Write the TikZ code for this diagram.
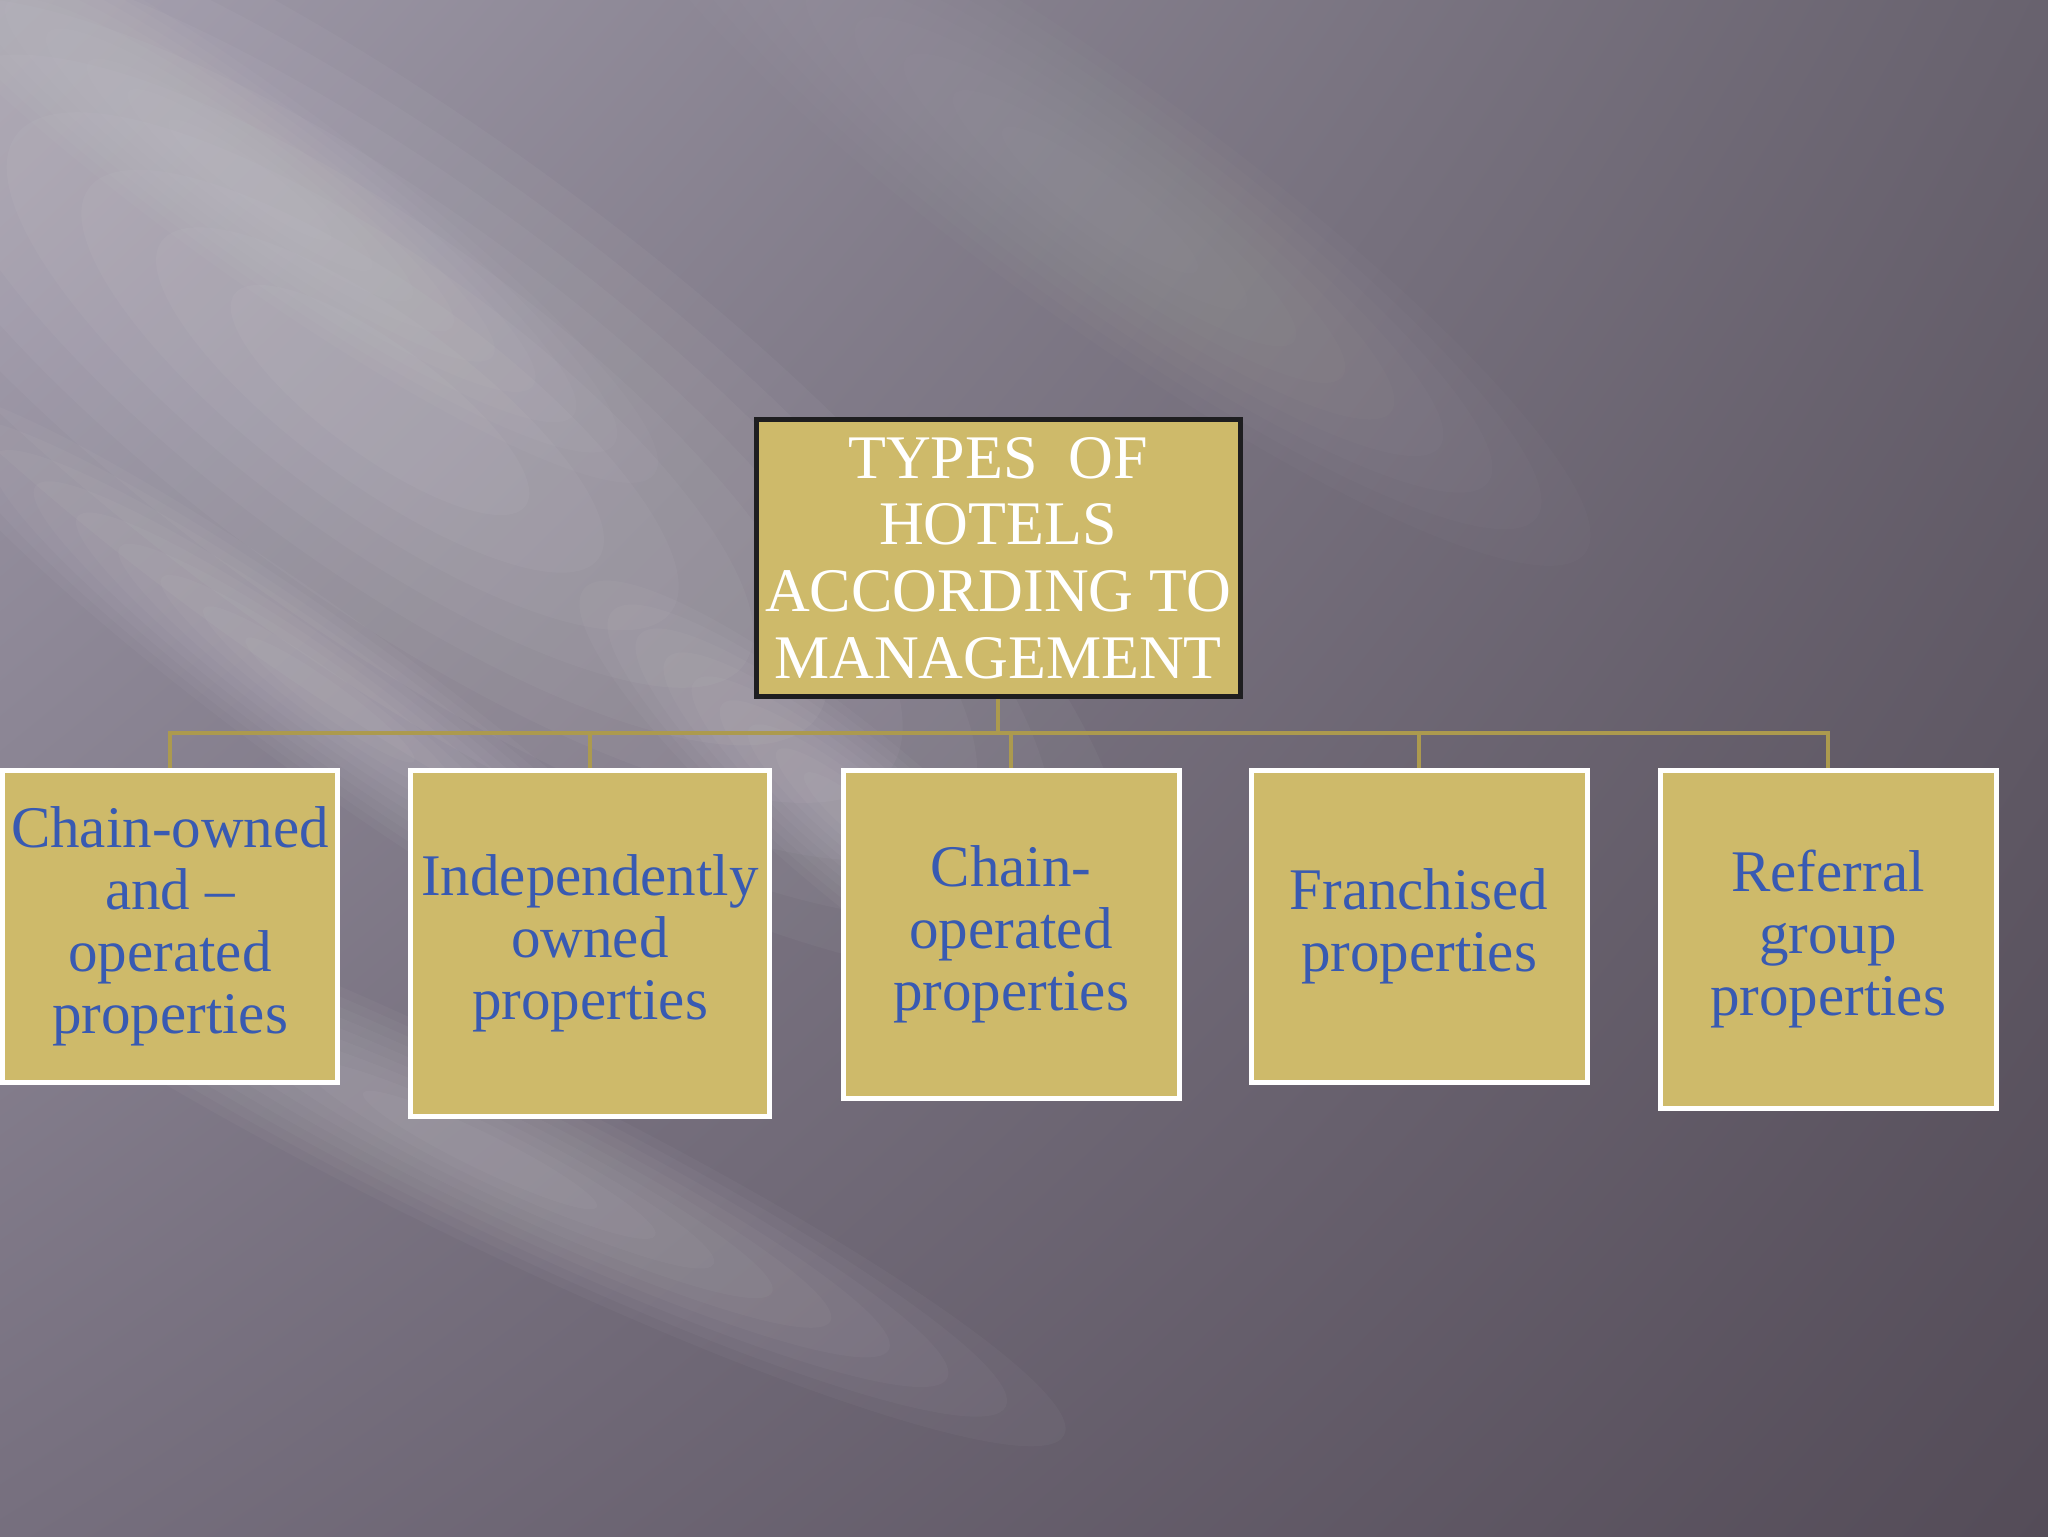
\documentclass[tikz,border=0pt]{standalone}
\usepackage{fontspec}
\setmainfont{Liberation Serif}
\usetikzlibrary{shadings}
\definecolor{boxgold}{RGB}{206,186,106}
\definecolor{linegold}{RGB}{172,154,78}
\definecolor{txtblue}{RGB}{56,90,178}
\definecolor{topborder}{RGB}{30,30,32}
\definecolor{bgul}{RGB}{160,155,170}
\definecolor{bgur}{RGB}{104,98,110}
\definecolor{bgll}{RGB}{118,111,126}
\definecolor{bglr}{RGB}{84,76,88}
\pgfdeclarelayer{bg}\pgfdeclarelayer{lines}\pgfsetlayers{bg,lines,main}
\tikzset{
 topbox/.style={draw=topborder, line width=2.5pt, fill=boxgold, text=white, align=center, font=\fontsize{31}{33.3}\selectfont, inner sep=0pt},
 childbox/.style={draw=white, line width=2.5pt, fill=boxgold, text=txtblue, align=center, font=\fontsize{29.5}{31}\selectfont, inner sep=0pt},
 conn/.style={draw=linegold, line width=2.2pt},
}
\begin{document}
\begin{tikzpicture}[x=0.5pt,y=-0.5pt]
\useasboundingbox (0,0) rectangle (2048,1536);
\node[topbox, minimum width=242pt, minimum height=138.5pt] (top) at (998,558) {TYPES\ \ OF\\HOTELS\\ACCORDING TO\\MANAGEMENT};
\node[childbox, minimum width=167.5pt, minimum height=156pt] (c1) at (170,926) {Chain-owned\\and --\\operated\\properties};
\node[childbox, minimum width=179.5pt, minimum height=173pt] (c2) at (590,943) {Independently\\owned\\properties};
\node[childbox, minimum width=168pt, minimum height=164pt] (c3) at (1011,934) {Chain-\\operated\\properties};
\node[childbox, minimum width=168pt, minimum height=156pt] (c4) at (1419,926) {Franchised\\properties};
\node[childbox, minimum width=168pt, minimum height=169pt] (c5) at (1828,939) {Referral\\group\\properties};
\coordinate (bus) at (0,733);
\begin{pgfonlayer}{lines}
\draw[conn] (top.south) -- (top.south |- bus);
\draw[conn] (c1.north) -- (c1.north |- bus) -- (c5.north |- bus) -- (c5.north);
\foreach \n in {c2,c3,c4} \draw[conn] (\n.north |- bus) -- (\n.north);
\end{pgfonlayer}
\begin{pgfonlayer}{bg}
\shade[upper left=bgul, upper right=bgur, lower left=bgll, lower right=bglr] (0,0) rectangle (2048,1536);
\foreach \cx/\cy/\ang/\hw/\hl/\op in {380/400/-36/280/900/0.035, 330/700/-36/80/520/0.03, 480/1150/-26/90/650/0.03, 860/820/-40/80/360/0.03, 250/180/-36/90/500/0.025, 1100/200/-36/120/600/0.015}{
  \foreach \k in {1,0.9,...,0.15}{
    \fill[white, opacity=\op, rotate around={\ang:(\cx,\cy)}] (\cx,\cy) ellipse [x radius={\hl*\k}, y radius={\hw*\k}];
  }
}
\end{pgfonlayer}
\end{tikzpicture}
\end{document}
